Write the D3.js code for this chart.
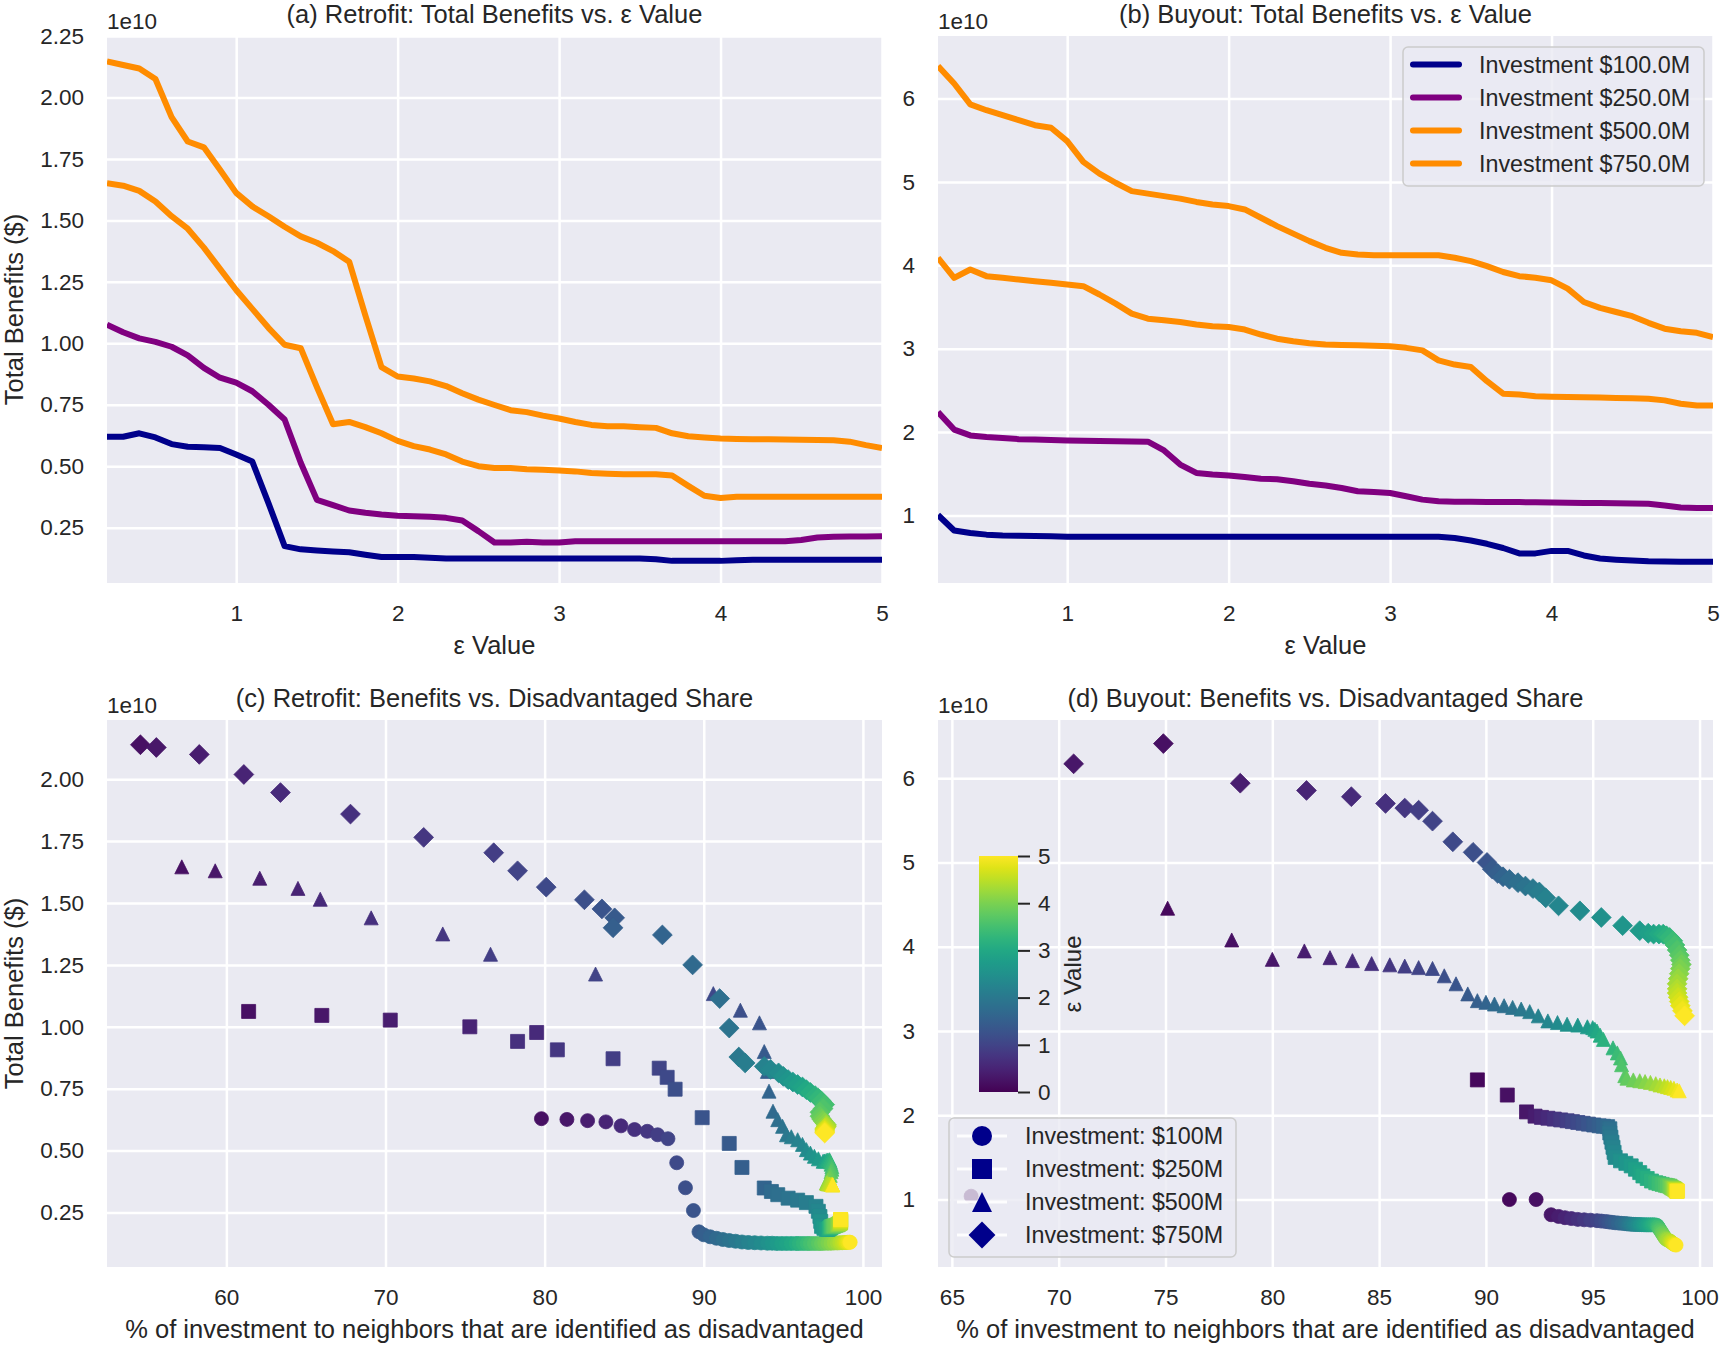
<!DOCTYPE html>
<html>
<head>
<meta charset="utf-8">
<script src="https://cdn.jsdelivr.net/npm/d3@7"></script>
<style>
  body { margin: 0; background: #fff; }
  svg { display: block; font-family: "Liberation Sans", Arial, Helvetica, sans-serif; }
</style>
</head>
<body>
<svg id="chart" width="1724" height="1348"></svg>
<script>
// epsilon grid used by every series (values are in units of 1e10 $)
const eps = [0.2,0.3,0.4,0.5,0.6,0.7,0.8,0.9,1.0,1.1,1.2,1.3,1.4,1.5,1.6,1.7,1.8,1.9,2.0,2.1,2.2,2.3,2.4,2.5,2.6,2.7,2.8,2.9,3.0,3.1,3.2,3.3,3.4,3.5,3.6,3.7,3.8,3.9,4.0,4.1,4.2,4.3,4.4,4.5,4.6,4.7,4.8,4.9,5.0];

// (a) retrofit lines
const retro100 = [0.620,0.620,0.634,0.617,0.590,0.579,0.577,0.574,0.548,0.519,0.350,0.175,0.162,0.157,0.153,0.150,0.140,0.131,0.131,0.131,0.128,0.125,0.125,0.125,0.125,0.125,0.125,0.125,0.125,0.125,0.125,0.125,0.125,0.125,0.122,0.115,0.115,0.115,0.115,0.118,0.120,0.120,0.120,0.120,0.120,0.120,0.120,0.120,0.120];
const retro250 = [1.076,1.045,1.020,1.006,0.986,0.951,0.900,0.860,0.840,0.805,0.750,0.690,0.514,0.363,0.342,0.320,0.311,0.304,0.299,0.297,0.294,0.290,0.279,0.236,0.190,0.190,0.193,0.190,0.190,0.195,0.195,0.195,0.195,0.195,0.195,0.195,0.195,0.195,0.195,0.195,0.195,0.195,0.195,0.200,0.210,0.213,0.214,0.214,0.215];
const retro500 = [1.651,1.641,1.620,1.577,1.517,1.466,1.389,1.303,1.217,1.140,1.063,0.994,0.980,0.822,0.671,0.680,0.659,0.634,0.603,0.582,0.568,0.548,0.519,0.500,0.493,0.493,0.488,0.486,0.483,0.479,0.472,0.469,0.467,0.467,0.467,0.462,0.420,0.380,0.371,0.376,0.376,0.376,0.376,0.376,0.376,0.376,0.376,0.376,0.376];
const retro750 = [2.147,2.132,2.118,2.075,1.920,1.821,1.797,1.706,1.612,1.557,1.517,1.474,1.435,1.409,1.375,1.332,1.114,0.903,0.865,0.857,0.845,0.826,0.797,0.771,0.749,0.728,0.720,0.706,0.694,0.680,0.668,0.663,0.663,0.659,0.656,0.634,0.622,0.617,0.613,0.611,0.610,0.610,0.609,0.608,0.607,0.606,0.600,0.586,0.574];

// (b) buyout lines
const buy100 = [1.005,0.820,0.790,0.770,0.760,0.757,0.755,0.752,0.745,0.745,0.745,0.745,0.745,0.745,0.745,0.745,0.745,0.745,0.745,0.745,0.745,0.745,0.745,0.745,0.745,0.745,0.745,0.745,0.745,0.745,0.745,0.745,0.730,0.700,0.660,0.610,0.545,0.545,0.575,0.575,0.520,0.484,0.470,0.460,0.450,0.447,0.445,0.445,0.445];
const buy250 = [2.24,2.03,1.96,1.94,1.93,1.915,1.91,1.905,1.90,1.895,1.893,1.89,1.888,1.885,1.78,1.61,1.51,1.49,1.48,1.46,1.44,1.435,1.41,1.38,1.36,1.33,1.29,1.28,1.27,1.23,1.19,1.17,1.165,1.163,1.162,1.16,1.16,1.158,1.155,1.152,1.15,1.148,1.146,1.144,1.14,1.12,1.095,1.09,1.09];
const buy500 = [4.09,3.85,3.95,3.87,3.85,3.83,3.81,3.79,3.77,3.75,3.65,3.54,3.42,3.36,3.34,3.32,3.29,3.27,3.26,3.23,3.17,3.12,3.09,3.065,3.05,3.045,3.04,3.035,3.03,3.01,2.98,2.86,2.81,2.78,2.61,2.46,2.45,2.43,2.425,2.42,2.418,2.415,2.41,2.405,2.40,2.38,2.34,2.32,2.32];
const buy750 = [6.39,6.18,5.93,5.86,5.80,5.74,5.68,5.65,5.49,5.24,5.10,4.99,4.89,4.86,4.83,4.80,4.76,4.73,4.71,4.67,4.57,4.47,4.38,4.29,4.21,4.15,4.13,4.12,4.12,4.12,4.12,4.12,4.09,4.05,3.99,3.92,3.87,3.85,3.82,3.72,3.56,3.49,3.44,3.39,3.31,3.24,3.21,3.19,3.14];

// (c) retrofit scatter: % to disadvantaged and benefits, one per eps
const shareR100 = [79.8,81.4,82.7,83.85,84.8,85.65,86.45,87.1,87.75,88.3,88.85,89.35,89.7,90.0,90.4,90.8,91.2,91.6,92.0,92.4,92.8,93.2,93.6,94.0,94.3,94.6,94.9,95.2,95.5,95.8,96.0,96.25,96.5,96.7,96.95,97.2,97.4,97.6,97.8,98.0,98.2,98.4,98.55,98.7,98.85,98.95,99.05,99.15,99.2];
const benR100 = [0.629,0.626,0.621,0.616,0.600,0.585,0.578,0.564,0.548,0.451,0.350,0.258,0.172,0.160,0.152,0.146,0.141,0.137,0.134,0.131,0.129,0.128,0.127,0.126,0.126,0.125,0.125,0.125,0.125,0.125,0.125,0.125,0.125,0.125,0.125,0.125,0.125,0.126,0.126,0.126,0.127,0.127,0.128,0.128,0.129,0.129,0.130,0.130,0.130];
const shareR250 = [61.4,66.0,70.3,75.3,79.5,78.3,80.8,84.3,87.2,87.7,88.2,89.9,91.6,92.4,93.8,94.25,94.65,95.3,95.9,96.45,97.05,97.2,97.3,97.35,97.4,97.55,97.7,97.8,97.85,97.9,97.95,98.0,98.0,98.05,98.1,98.15,98.2,98.3,98.4,98.45,98.5,98.55,98.6,98.6,98.6,98.6,98.6,98.6,98.6];
const benR250 = [1.062,1.046,1.027,1.000,0.977,0.941,0.907,0.871,0.833,0.796,0.748,0.633,0.529,0.432,0.349,0.335,0.322,0.308,0.300,0.290,0.275,0.255,0.234,0.214,0.194,0.186,0.182,0.182,0.184,0.186,0.188,0.190,0.192,0.193,0.194,0.195,0.196,0.198,0.200,0.202,0.204,0.206,0.208,0.212,0.215,0.218,0.220,0.221,0.222];
const shareR500 = [57.2,59.3,62.1,64.5,65.9,69.1,73.6,76.6,83.2,90.6,92.3,93.5,93.8,94.0,94.1,94.35,94.65,94.95,95.2,95.5,95.9,96.2,96.45,96.7,96.95,97.2,97.5,97.6,97.7,97.8,97.9,97.95,98.0,98.05,98.05,98.0,97.95,97.9,97.8,97.75,97.7,97.75,97.8,97.9,98.0,98.05,98.1,98.1,98.1];
const benR500 = [1.646,1.630,1.600,1.559,1.515,1.440,1.375,1.293,1.213,1.134,1.067,1.016,0.900,0.820,0.740,0.659,0.625,0.598,0.564,0.556,0.544,0.525,0.504,0.490,0.477,0.467,0.457,0.458,0.460,0.462,0.463,0.455,0.445,0.435,0.425,0.415,0.400,0.390,0.380,0.372,0.369,0.367,0.366,0.365,0.364,0.363,0.362,0.362,0.362];
const shareR750 = [54.6,55.6,58.3,61.1,63.4,67.8,72.4,76.8,78.3,80.1,82.5,83.6,84.4,84.3,87.4,89.3,91.0,91.6,92.2,92.6,93.8,94.2,94.7,95.0,95.3,95.6,95.9,96.2,96.45,96.7,97.0,97.2,97.4,97.6,97.5,97.3,97.3,97.4,97.5,97.6,97.7,97.7,97.7,97.65,97.6,97.6,97.6,97.6,97.6];
const benR750 = [2.139,2.128,2.100,2.019,1.946,1.859,1.765,1.703,1.630,1.564,1.513,1.476,1.440,1.400,1.371,1.250,1.114,0.995,0.878,0.854,0.840,0.828,0.814,0.800,0.787,0.777,0.767,0.757,0.746,0.735,0.722,0.712,0.700,0.686,0.670,0.655,0.639,0.628,0.620,0.612,0.605,0.600,0.597,0.592,0.588,0.583,0.579,0.575,0.571];

// (d) buyout scatter
const shareB100 = [92.35,93.05,93.4,93.7,94.0,94.3,94.6,94.9,95.2,95.4,95.6,95.75,95.9,96.05,96.2,96.35,96.5,96.6,96.7,96.8,96.9,97.0,97.1,97.2,97.3,97.4,97.5,97.6,97.7,97.8,97.9,98.0,98.05,98.1,98.15,98.2,98.25,98.3,98.35,98.4,98.45,98.5,98.6,98.65,98.7,98.75,98.8,98.85,98.9];
const benB100 = [1.00,0.82,0.80,0.785,0.775,0.765,0.76,0.755,0.75,0.745,0.74,0.735,0.73,0.725,0.722,0.718,0.715,0.712,0.71,0.708,0.706,0.705,0.704,0.703,0.702,0.701,0.70,0.70,0.70,0.70,0.70,0.695,0.68,0.66,0.64,0.62,0.60,0.58,0.56,0.54,0.53,0.52,0.51,0.50,0.49,0.48,0.47,0.465,0.46];
const shareB250 = [91.0,91.9,92.3,92.6,92.9,93.2,93.5,93.8,94.05,94.3,94.55,94.8,95.05,95.3,95.5,95.7,95.8,95.8,95.85,95.9,95.95,96.0,96.05,96.3,96.55,96.8,97.0,97.2,97.35,97.55,97.75,97.95,98.1,98.25,98.4,98.5,98.6,98.65,98.7,98.75,98.8,98.82,98.85,98.87,98.9,98.92,98.93,98.95,98.97];
const benB250 = [2.24,2.04,1.99,1.975,1.965,1.955,1.945,1.935,1.925,1.915,1.905,1.895,1.885,1.875,1.87,1.865,1.84,1.79,1.74,1.68,1.62,1.56,1.50,1.46,1.43,1.40,1.36,1.32,1.28,1.25,1.22,1.20,1.19,1.18,1.17,1.165,1.16,1.15,1.14,1.135,1.13,1.125,1.12,1.115,1.11,1.105,1.10,1.10,1.10];
const shareB500 = [78.1,80.0,81.5,82.7,83.75,84.65,85.5,86.2,86.85,87.5,88.05,88.6,89.15,89.6,90.0,90.4,90.85,91.25,91.65,92.05,92.45,92.9,93.35,93.8,94.3,94.75,95.0,95.1,95.2,95.35,95.5,95.95,96.15,96.3,96.35,96.5,96.6,96.9,97.2,97.45,97.7,97.95,98.15,98.35,98.5,98.65,98.8,98.95,99.05];
const benB500 = [4.08,3.85,3.95,3.87,3.835,3.80,3.785,3.77,3.752,3.742,3.655,3.56,3.44,3.36,3.34,3.32,3.30,3.28,3.26,3.23,3.18,3.12,3.10,3.08,3.07,3.05,3.04,3.02,3.00,2.95,2.90,2.80,2.74,2.68,2.60,2.47,2.44,2.42,2.41,2.40,2.39,2.375,2.36,2.35,2.34,2.33,2.32,2.30,2.29];
const shareB750 = [74.9,70.7,78.5,81.6,83.7,85.3,86.2,86.85,87.5,88.45,89.4,90.05,90.3,90.55,90.8,91.1,91.5,91.85,92.2,92.5,92.8,93.4,94.4,95.4,96.4,97.2,97.6,97.85,98.1,98.3,98.45,98.6,98.75,98.85,98.95,99.05,99.1,99.15,99.1,99.05,99.0,98.95,98.95,98.95,99.0,99.05,99.1,99.2,99.3];
const benB750 = [6.41,6.17,5.94,5.854,5.78,5.70,5.645,5.62,5.49,5.245,5.12,5.00,4.92,4.87,4.83,4.80,4.76,4.72,4.69,4.65,4.58,4.485,4.426,4.347,4.25,4.19,4.16,4.15,4.15,4.15,4.13,4.11,4.07,4.02,3.96,3.90,3.84,3.79,3.74,3.68,3.62,3.56,3.50,3.45,3.40,3.35,3.30,3.24,3.18];

// low-eps buyout points that sit outside the 0.2-5.0 grid
const extraB100Eps = [0.0, 0.1], extraB100Share = [65.9, 91.1], extraB100Ben = [1.04, 1.00];
const extraB250Eps = [0.1], extraB250Share = [89.6], extraB250Ben = [2.42];
const extraB500Eps = [0.1], extraB500Share = [75.1], extraB500Ben = [4.457];

const lineLabels = ["Investment $100.0M", "Investment $250.0M", "Investment $500.0M", "Investment $750.0M"];
const markerLabels = ["Investment: $100M", "Investment: $250M", "Investment: $500M", "Investment: $750M"];
const lineColors = ["#00008b", "#800080", "#ff8c00", "#ff8c00"];
const shapes = ["circle", "square", "triangle", "diamond"];
const cbTicks = [0, 1, 2, 3, 4, 5];

const TXT = "#262626";
const svg = d3.select("#chart");
svg.append("rect").attr("width", 1724).attr("height", 1348).attr("fill", "#fff");

const color = d3.scaleSequential(d3.interpolateViridis).domain([0, 5]);

function circlePath(r) {
  const p = d3.path();
  p.arc(0, 0, r, 0, 2 * Math.PI);
  p.closePath();
  return p.toString();
}
function markerPath(shape, s) {
  const h = s / 2;
  if (shape === "circle") return circlePath(h);
  if (shape === "square") return `M${-h},${-h}H${h}V${h}H${-h}Z`;
  if (shape === "triangle") return `M0,${-h}L${h},${h}L${-h},${h}Z`;
  const d = h * Math.SQRT2;
  return `M0,${-d}L${d},0L0,${d}L${-d},0Z`;
}

function makePanel(id, b, xDom, yDom, xTicks, yTicks, yFmt, title, xLabel, yLabel) {
  const x = d3.scaleLinear().domain(xDom).range([b.x0, b.x1]);
  const y = d3.scaleLinear().domain(yDom).range([b.y1, b.y0]);
  const inX = xTicks.filter(t => t >= xDom[0] && t <= xDom[1]);
  const inY = yTicks.filter(t => t >= yDom[0] && t <= yDom[1]);
  const g = svg.append("g");
  g.append("rect").attr("x", b.x0).attr("y", b.y0)
    .attr("width", b.x1 - b.x0).attr("height", b.y1 - b.y0).attr("fill", "#eaeaf2");

  const gx = g.append("g").attr("transform", `translate(0,${b.y1})`)
    .call(d3.axisBottom(x).tickValues(inX).tickSize(-(b.y1 - b.y0)).tickPadding(22.5).tickFormat(d3.format("d")));
  const gy = g.append("g").attr("transform", `translate(${b.x0},0)`)
    .call(d3.axisLeft(y).tickValues(inY).tickSize(-(b.x1 - b.x0)).tickPadding(23).tickFormat(yFmt));
  [gx, gy].forEach(a => {
    a.select(".domain").remove();
    a.attr("font-size", 22.5).attr("font-family", null);
    a.selectAll("line").attr("stroke", "#fff").attr("stroke-width", 2.5);
    a.selectAll("text").attr("fill", TXT);
  });

  svg.append("clipPath").attr("id", "clip-" + id).append("rect")
    .attr("x", b.x0).attr("y", b.y0).attr("width", b.x1 - b.x0).attr("height", b.y1 - b.y0);

  g.append("text").attr("x", (b.x0 + b.x1) / 2).attr("y", b.y0 - 13)
    .attr("text-anchor", "middle").attr("font-size", 25.5).attr("fill", TXT).text(title);
  g.append("text").attr("x", b.x0).attr("y", b.y0 - 7.5)
    .attr("font-size", 22.5).attr("fill", TXT).text("1e10");
  g.append("text").attr("x", (b.x0 + b.x1) / 2).attr("y", b.y1 + 71)
    .attr("text-anchor", "middle").attr("font-size", 25.5).attr("fill", TXT).text(xLabel);
  if (yLabel) {
    g.append("text").attr("transform", `translate(23,${(b.y0 + b.y1) / 2}) rotate(-90)`)
      .attr("text-anchor", "middle").attr("font-size", 25.5).attr("fill", TXT).text(yLabel);
  }
  const plot = svg.append("g").attr("clip-path", `url(#clip-${id})`);
  return { x, y, plot, b };
}

const f2 = d3.format(".2f"), fd = d3.format("d");
const retroY = [0.25, 0.5, 0.75, 1.0, 1.25, 1.5, 1.75, 2.0, 2.25];
const buyY = [1, 2, 3, 4, 5, 6];

const pa = makePanel("a", {x0: 107, x1: 882, y0: 36, y1: 583}, [0.2, 5], [0.025, 2.25],
  [1, 2, 3, 4, 5], retroY, f2, "(a) Retrofit: Total Benefits vs. \u03b5 Value", "\u03b5 Value", "Total Benefits ($)");
const pb = makePanel("b", {x0: 938, x1: 1713, y0: 36, y1: 583}, [0.2, 5], [0.19, 6.75],
  [1, 2, 3, 4, 5], buyY, fd, "(b) Buyout: Total Benefits vs. \u03b5 Value", "\u03b5 Value", null);
const pc = makePanel("c", {x0: 107, x1: 882, y0: 720, y1: 1267}, [52.5, 101.2], [0.03, 2.239],
  [60, 70, 80, 90, 100], retroY, f2, "(c) Retrofit: Benefits vs. Disadvantaged Share",
  "% of investment to neighbors that are identified as disadvantaged", "Total Benefits ($)");
const pd = makePanel("d", {x0: 938, x1: 1713, y0: 720, y1: 1267}, [64.35, 100.63], [0.2, 6.69],
  [65, 70, 75, 80, 85, 90, 95, 100], buyY, fd, "(d) Buyout: Benefits vs. Disadvantaged Share",
  "% of investment to neighbors that are identified as disadvantaged", null);

// line panels
function drawLines(p, series) {
  const line = d3.line().x((d, i) => p.x(eps[i])).y(d => p.y(d));
  series.forEach((s, k) => {
    p.plot.append("path").attr("d", line(s)).attr("fill", "none")
      .attr("stroke", lineColors[k]).attr("stroke-width", 6)
      .attr("stroke-linejoin", "round").attr("stroke-linecap", "butt");
  });
}
drawLines(pa, [retro100, retro250, retro500, retro750]);
drawLines(pb, [buy100, buy250, buy500, buy750]);

// scatter panels
function drawScatter(p, series) {
  series.forEach((s, k) => {
    const pts = s.extraEps.map((e, i) => ({ e, s: s.extraShare[i], v: s.extraBen[i] }))
      .concat(eps.map((e, i) => ({ e, s: s.share[i], v: s.ben[i] })));
    p.plot.append("g").selectAll("path").data(pts).join("path")
      .attr("transform", d => `translate(${p.x(d.s)},${p.y(d.v)})`)
      .attr("d", markerPath(shapes[k], 14))
      .attr("fill", d => color(d.e))
      .attr("stroke", d => color(d.e)).attr("stroke-width", 0.8);
  });
}
drawScatter(pc, [
  { share: shareR100, ben: benR100, extraEps: [], extraShare: [], extraBen: [] },
  { share: shareR250, ben: benR250, extraEps: [], extraShare: [], extraBen: [] },
  { share: shareR500, ben: benR500, extraEps: [], extraShare: [], extraBen: [] },
  { share: shareR750, ben: benR750, extraEps: [], extraShare: [], extraBen: [] }
]);
drawScatter(pd, [
  { share: shareB100, ben: benB100, extraEps: extraB100Eps, extraShare: extraB100Share, extraBen: extraB100Ben },
  { share: shareB250, ben: benB250, extraEps: extraB250Eps, extraShare: extraB250Share, extraBen: extraB250Ben },
  { share: shareB500, ben: benB500, extraEps: extraB500Eps, extraShare: extraB500Share, extraBen: extraB500Ben },
  { share: shareB750, ben: benB750, extraEps: [], extraShare: [], extraBen: [] }
]);

// legend (b)
const lgB = svg.append("g");
lgB.append("rect").attr("x", 1403).attr("y", 47).attr("width", 301).attr("height", 139)
  .attr("rx", 5).attr("fill", "#eaeaf2").attr("fill-opacity", 0.8).attr("stroke", "#cccccc").attr("stroke-width", 1.5);
lineLabels.forEach((t, i) => {
  const yy = 64.5 + i * 33;
  lgB.append("line").attr("x1", 1413).attr("x2", 1459).attr("y1", yy).attr("y2", yy)
    .attr("stroke", lineColors[i]).attr("stroke-width", 6).attr("stroke-linecap", "round");
  lgB.append("text").attr("x", 1479).attr("y", yy + 8.3).attr("font-size", 23.3).attr("fill", TXT).text(t);
});

// legend (d)
const lgD = svg.append("g");
lgD.append("rect").attr("x", 949).attr("y", 1118).attr("width", 287).attr("height", 139)
  .attr("rx", 5).attr("fill", "#eaeaf2").attr("fill-opacity", 0.8).attr("stroke", "#cccccc").attr("stroke-width", 1.5);
markerLabels.forEach((t, i) => {
  const yy = 1136 + i * 33;
  lgD.append("line").attr("x1", 957).attr("x2", 1007).attr("y1", yy).attr("y2", yy)
    .attr("stroke", "#fff").attr("stroke-width", 3).attr("stroke-opacity", 0.9);
  lgD.append("path").attr("transform", `translate(982,${yy})`)
    .attr("d", markerPath(shapes[i], i === 3 ? 19 : 20)).attr("fill", "#00008b");
  lgD.append("text").attr("x", 1025).attr("y", yy + 8.3).attr("font-size", 23.3).attr("fill", TXT).text(t);
});

// colorbar inside (d)
const defs = svg.append("defs");
const grad = defs.append("linearGradient").attr("id", "viridis")
  .attr("x1", 0).attr("y1", 1).attr("x2", 0).attr("y2", 0);
d3.range(0, 1.0001, 0.05).forEach(t => {
  grad.append("stop").attr("offset", t).attr("stop-color", d3.interpolateViridis(t));
});
const cb = { x0: 979, x1: 1018, y0: 856, y1: 1092 };
svg.append("rect").attr("x", cb.x0).attr("y", cb.y0).attr("width", cb.x1 - cb.x0)
  .attr("height", cb.y1 - cb.y0).attr("fill", "url(#viridis)");
const cbScale = d3.scaleLinear().domain([0, 5]).range([cb.y1, cb.y0]);
const gcb = svg.append("g").attr("transform", `translate(${cb.x1},0)`)
  .call(d3.axisRight(cbScale).tickValues(cbTicks).tickSize(12).tickPadding(8).tickFormat(fd));
gcb.select(".domain").remove();
gcb.attr("font-size", 22.5).attr("font-family", null);
gcb.selectAll("line").attr("stroke", TXT).attr("stroke-width", 2);
gcb.selectAll("text").attr("fill", TXT);
svg.append("text").attr("transform", `translate(1081,${(cb.y0 + cb.y1) / 2}) rotate(-90)`)
  .attr("text-anchor", "middle").attr("font-size", 24).attr("fill", TXT).text("\u03b5 Value");
</script>
</body>
</html>
